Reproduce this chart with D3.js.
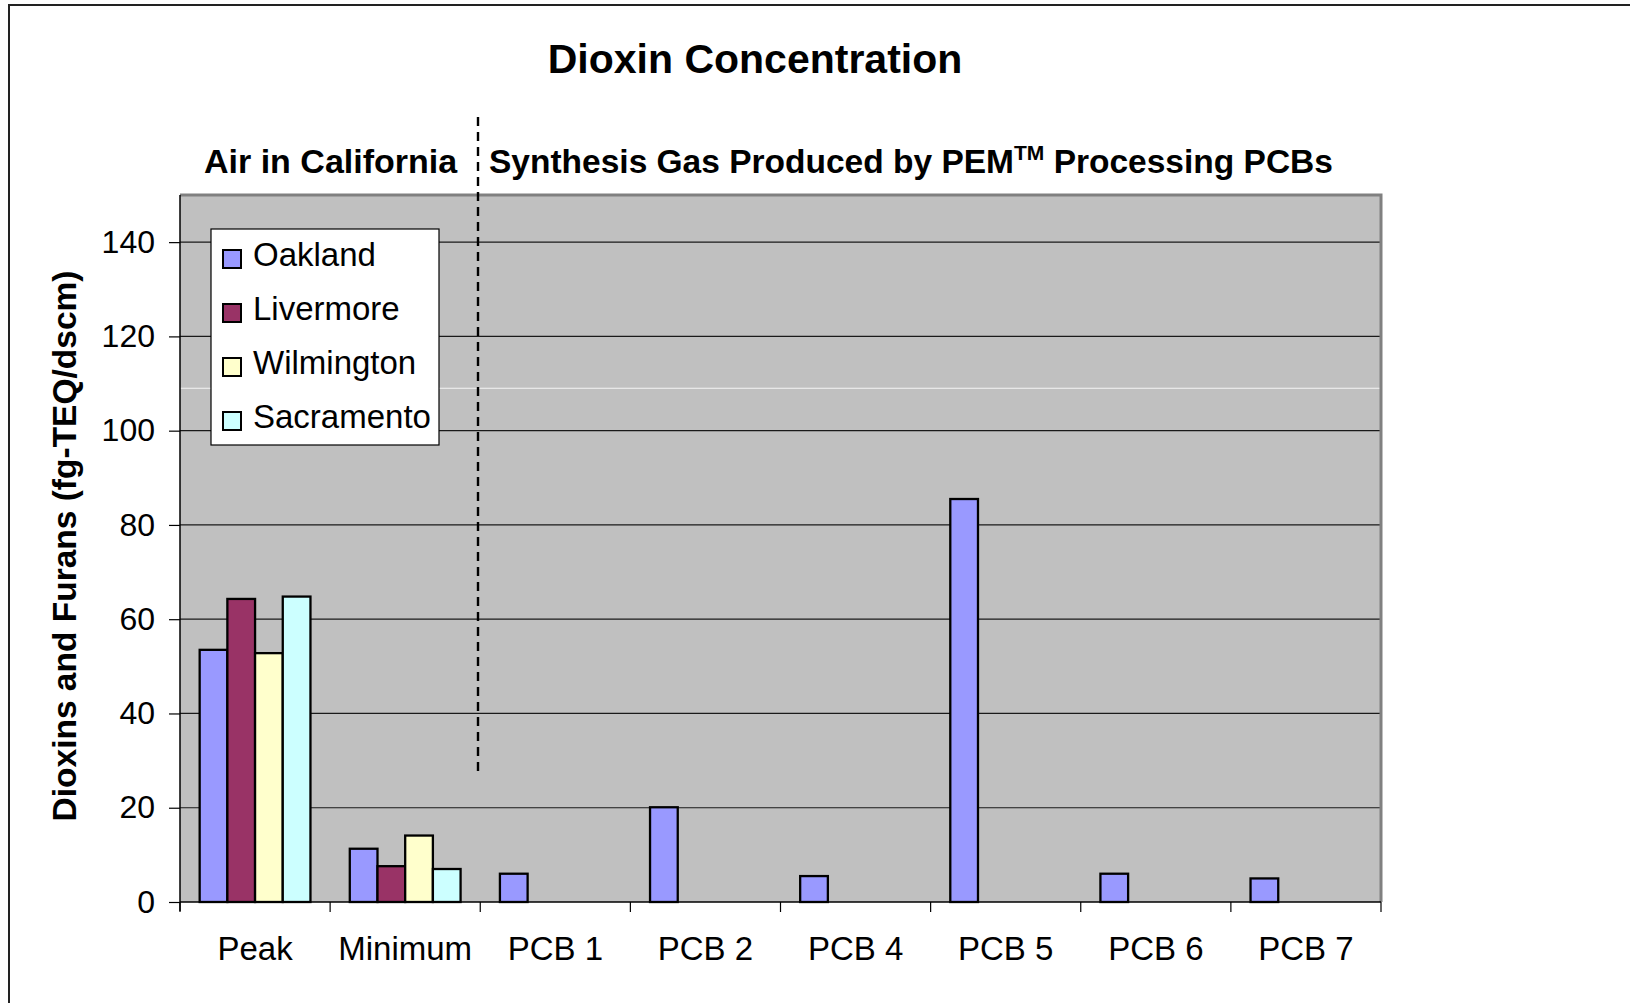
<!DOCTYPE html>
<html>
<head>
<meta charset="utf-8">
<script src="https://cdn.jsdelivr.net/npm/d3@7"></script>
<style>
  html, body { margin: 0; padding: 0; background: #fff; }
  svg { display: block; font-family: "Liberation Sans", Arial, sans-serif; }
</style>
</head>
<body>
<div id="chart"></div>
<script>
// Data
const categories = ["Peak", "Minimum", "PCB 1", "PCB 2", "PCB 4", "PCB 5", "PCB 6", "PCB 7"];
const seriesNames = ["Oakland", "Livermore", "Wilmington", "Sacramento"];
const oakland    = [53.5, 11.3, 6.0, 20.1, 5.5, 85.5, 6.0, 5.0];
const livermore  = [64.3, 7.6, null, null, null, null, null, null];
const wilmington = [52.8, 14.1, null, null, null, null, null, null];
const sacramento = [64.8, 7.0, null, null, null, null, null, null];
const seriesColors = ["#9999FF", "#993366", "#FFFFCC", "#CCFFFF"];
const yTicks = [0, 20, 40, 60, 80, 100, 120, 140];

const seriesValues = [oakland, livermore, wilmington, sacramento];

const W = 1630, H = 1003;
const plot = {left: 180, right: 1381, top: 195, bottom: 902};

const svg = d3.select("#chart").append("svg")
    .attr("width", W)
    .attr("height", H);

// outer frame (only top / left visible in the picture)
svg.append("rect")
    .attr("x", 9).attr("y", 5)
    .attr("width", W + 20).attr("height", H + 20)
    .attr("fill", "none")
    .attr("stroke", "#222")
    .attr("stroke-width", 2);

const x0 = d3.scaleBand()
    .domain(categories)
    .range([plot.left, plot.right])
    .padding(0);

const x1 = d3.scaleBand()
    .domain(seriesNames)
    .range([0, x0.bandwidth()])
    .paddingInner(0)
    .paddingOuter(0.71);

const y = d3.scaleLinear()
    .domain([0, 150])
    .range([plot.bottom, plot.top]);

// plot background
svg.append("rect")
    .attr("x", plot.left).attr("y", plot.top)
    .attr("width", plot.right - plot.left)
    .attr("height", plot.bottom - plot.top)
    .attr("fill", "#C0C0C0");

// gridlines
svg.append("g")
    .selectAll("line")
    .data(yTicks.filter(d => d > 0))
    .join("line")
    .attr("x1", plot.left).attr("x2", plot.right)
    .attr("y1", d => y(d)).attr("y2", d => y(d))
    .attr("stroke", "#1a1a1a")
    .attr("stroke-width", 1.2);

// stray light line seen in the picture
svg.append("line")
    .attr("x1", plot.left).attr("x2", plot.right)
    .attr("y1", y(109)).attr("y2", y(109))
    .attr("stroke", "#f4f4f4")
    .attr("stroke-width", 1);

// plot border top/right (grey)
svg.append("path")
    .attr("d", `M${plot.left},${plot.top}H${plot.right}V${plot.bottom}`)
    .attr("fill", "none")
    .attr("stroke", "#808080")
    .attr("stroke-width", 3);

// bars
const groups = svg.append("g")
    .selectAll("g")
    .data(categories.map((c, i) => ({cat: c, i})))
    .join("g")
    .attr("transform", d => `translate(${x0(d.cat)},0)`);

groups.selectAll("rect")
    .data(d => seriesNames.map((s, k) => ({s, k, v: seriesValues[k][d.i]})).filter(e => e.v != null))
    .join("rect")
    .attr("x", d => x1(d.s))
    .attr("y", d => y(d.v))
    .attr("width", x1.bandwidth())
    .attr("height", d => y(0) - y(d.v))
    .attr("fill", d => seriesColors[d.k])
    .attr("stroke", "#000")
    .attr("stroke-width", 2.3);

// y axis
const yAxis = svg.append("g")
    .attr("transform", `translate(${plot.left},0)`)
    .call(d3.axisLeft(y).tickValues(yTicks).tickSize(11).tickPadding(14));
yAxis.select(".domain").attr("d", `M0,${plot.top}V${plot.bottom + 9}`).attr("stroke", "#000").attr("stroke-width", 1.5);
yAxis.selectAll(".tick line").attr("stroke", "#000").attr("stroke-width", 1.2);
yAxis.selectAll("text")
    .attr("font-size", 32)
    .attr("font-family", "'Liberation Sans', Arial, sans-serif")
    .attr("fill", "#000");

// x axis with ticks at category boundaries
const xAxisG = svg.append("g");
xAxisG.append("line")
    .attr("x1", plot.left).attr("x2", plot.right)
    .attr("y1", plot.bottom).attr("y2", plot.bottom)
    .attr("stroke", "#000").attr("stroke-width", 1.5);
const bounds = categories.map(c => x0(c)).concat([plot.right]);
xAxisG.selectAll("line.tk")
    .data(bounds)
    .join("line")
    .attr("class", "tk")
    .attr("x1", d => d).attr("x2", d => d)
    .attr("y1", plot.bottom).attr("y2", plot.bottom + 10)
    .attr("stroke", "#000").attr("stroke-width", 1.2);
xAxisG.selectAll("text")
    .data(categories)
    .join("text")
    .attr("x", d => x0(d) + x0.bandwidth() / 2)
    .attr("y", 960)
    .attr("text-anchor", "middle")
    .attr("font-size", 33)
    .attr("fill", "#000")
    .text(d => d);

// dashed divider
svg.append("line")
    .attr("x1", 478).attr("x2", 478)
    .attr("y1", 117).attr("y2", 773)
    .attr("stroke", "#000")
    .attr("stroke-width", 2.4)
    .attr("stroke-dasharray", "9,6");

// titles
svg.append("text")
    .attr("x", 755).attr("y", 73)
    .attr("text-anchor", "middle")
    .attr("font-size", 41)
    .attr("font-weight", "bold")
    .text("Dioxin Concentration");

svg.append("text")
    .attr("x", 204).attr("y", 173)
    .attr("font-size", 34)
    .attr("font-weight", "bold")
    .text("Air in California");

const sub = svg.append("text")
    .attr("x", 489).attr("y", 173)
    .attr("font-size", 33.5)
    .attr("font-weight", "bold");
sub.append("tspan").text("Synthesis Gas Produced by PEM");
sub.append("tspan").attr("dy", -13).attr("font-size", 21).text("TM");
sub.append("tspan").attr("dy", 13).text(" Processing PCBs");

// y axis label
svg.append("text")
    .attr("transform", "translate(76,546) rotate(-90)")
    .attr("text-anchor", "middle")
    .attr("font-size", 33.5)
    .attr("font-weight", "bold")
    .text("Dioxins and Furans (fg-TEQ/dscm)");

// legend
const legend = svg.append("g").attr("transform", "translate(211,229)");
legend.append("rect")
    .attr("width", 228).attr("height", 216)
    .attr("fill", "#fff")
    .attr("stroke", "#000")
    .attr("stroke-width", 1.2);
const item = legend.selectAll("g.item")
    .data(seriesNames)
    .join("g")
    .attr("class", "item")
    .attr("transform", (d, i) => `translate(12,${21 + i * 54})`);
item.append("rect")
    .attr("width", 18).attr("height", 18)
    .attr("fill", (d, i) => seriesColors[i])
    .attr("stroke", "#000")
    .attr("stroke-width", 2);
item.append("text")
    .attr("x", 30).attr("y", 16)
    .attr("font-size", 33)
    .attr("fill", "#000")
    .text(d => d);
</script>
</body>
</html>
